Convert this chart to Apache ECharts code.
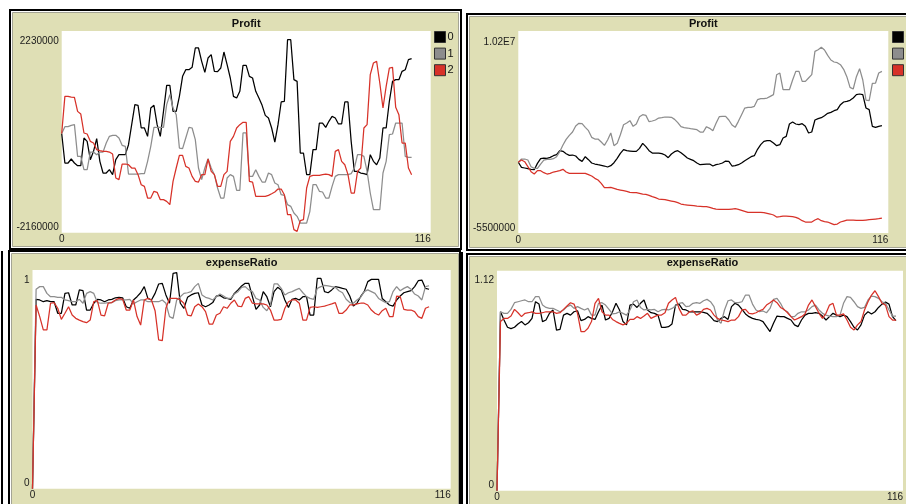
<!DOCTYPE html>
<html>
<head>
<meta charset="utf-8">
<style>
  html, body { margin: 0; padding: 0; background: #ffffff; }
  #chart { width: 906px; height: 504px; }
</style>
<script src="https://cdn.jsdelivr.net/npm/echarts@6/dist/echarts.min.js"></script>
</head>
<body>
<div id="chart"></div>
<script>
// ---- series identity ----
const seriesNames = ['0', '1', '2'];
const seriesColors = ['#000000', '#8d8d8d', '#d73229'];

// ---- shared x axis (ticks) ----
const tickRange = [0, 116];
const tickLabels = ['0', '116'];

// ---- run A : Profit, in thousands ----
const profitA0 = [0, -643, -643, -556, -643, -701, -701, -99, -172, -571,
  -389, -114, -607, -861, -861, -788, -897, -571, -462, -462,
  -462, -245, 191, 627, 612, 119, 119, -63, 554, 612,
  191, -63, 481, 1047, 1047, 481, 481, 808, 1243, 1388,
  1388, 1439, 1860, 1860, 1570, 1330, 1642, 1715, 1352, 1345,
  1424, 1773, 1497, 1207, 808, 772, 917, 1483, 1483, 1243,
  1207, 917, 772, 612, 394, 336, 119, -187, 191, 685,
  699, 2041, 2041, 1171, 1134, -426, -426, -897, -897, -353,
  -353, 227, 227, 133, 264, 372, 336, 206, 206, 685,
  685, -172, -825, -825, -861, -875, -897, -462, -607, -680,
  -536, 119, 119, 700, 1134, 1171, 1171, 1352, 1388, 1606, 1628];
const profitA1 = [0, 148, 148, 177, 191, -498, -498, -788, -788, -404,
  -404, -462, -404, -404, -208, -63, -41, -41, -99, -259,
  -281, -883, -883, -883, -883, -875, -875, -607, -281, 133,
  133, 133, 133, 627, 844, 554, 409, -317, -331, -99,
  133, 119, -135, -752, -1006, -752, -549, -752, -897, -1187,
  -1405, -1405, -970, -897, -934, -1238, -1238, 10, 10, -934,
  -934, -788, -934, -1057, -1057, -861, -897, -1079, -1115, -1333,
  -1347, -1550, -1586, -1732, -1804, -1949, -1949, -1949, -1700, -1115,
  -1115, -1260, -1274, -1405, -1405, -1151, -934, -897, -897, -897,
  -897, -875, -752, -462, -462, -498, -825, -1296, -1659, -1659,
  -1659, -861, -607, -26, -12, 227, 227, 227, -498, -520, -520];
const profitA2 = [0, 808, 808, 793, 786, 481, 423, 10, -12, -172,
  -208, -353, -375, -389, -389, -404, -447, -970, -1006, -665,
  -665, -680, -752, -752, -897, -1115, -1151, -1405, -1405, -1260,
  -1282, -1441, -1441, -1478, -1550, -1042, -752, -476, -476, -716,
  -752, -934, -1042, -1057, -897, -897, -556, -825, -897, -1151,
  -1151, -897, -825, -172, -63, 119, 191, 242, 242, -1042,
  -1057, -1369, -1369, -1369, -1369, -1347, -1311, -1274, -1209, -1209,
  -1333, -1768, -1768, -2094, -2130, -1898, -1877, -1187, -934, -912,
  -912, -912, -897, -883, -897, -934, -389, -353, -607, -680,
  -897, -1296, -1296, -825, -752, 119, 191, 1280, 1533, 1570,
  1098, 554, 1025, 1424, 1439, 568, 409, -208, -208, -752, -897];
const profitARange = [-2160000, 2230000];
const profitATicks = ['-2160000', '2230000'];

// ---- run B : Profit, in thousands ----
const profitB0 = [0, -397, -449, -501, -553, -579, -87, 276, 328, 302,
  380, 509, 587, 898, 846, 665, 535, 561, 483, 224,
  69, 432, 198, -61, -139, -191, -242, -294, -372, -268,
  -35, 302, 691, 976, 898, 872, 846, 846, 1080, 1468,
  1209, 898, 716, 716, 716, 665, 561, 354, 639, 820,
  898, 742, 535, 328, 224, 120, -61, -190, -164, -138,
  -138, -294, -190, -138, -61, 95, 69, -294, -268, -190,
  -61, 121, 276, 432, 510, 1002, 1364, 1624, 1675, 1675,
  1494, 1287, 1364, 1883, 2012, 2971, 3126, 2971, 2919, 2997,
  2790, 2271, 2349, 3282, 3386, 3463, 3619, 3800, 3878, 4007,
  4085, 4474, 4681, 4733, 4811, 4992, 5251, 5303, 5251, 4215,
  4085, 2790, 2712, 2790, 2842];
const profitB1 = [0, 250, 250, 172, -346, -476, -476, -139, 172, 224,
  224, 276, 431, 820, 1338, 1779, 2090, 2349, 2815, 3022,
  2997, 2711, 2452, 1934, 1805, 1805, 1571, 1312, 1727, 2271,
  1286, 1468, 2141, 2918, 3048, 3230, 2790, 2971, 3541, 3696,
  3644, 3152, 3204, 3281, 3437, 3463, 3515, 3515, 3489, 3333,
  3074, 2763, 2686, 2660, 2608, 2582, 2530, 2349, 2349, 2763,
  2634, 2452, 3022, 3541, 3567, 3567, 3281, 2893, 2711, 3178,
  3696, 4214, 4266, 4266, 4344, 4862, 4940, 4940, 4991, 5121,
  5251, 6805, 6935, 5639, 5639, 5639, 6391, 7064, 7064, 6287,
  6287, 6546, 6805, 8619, 8748, 8930, 8722, 8308, 7945, 7790,
  7738, 7582, 7220, 6650, 5820, 5691, 6650, 7271, 6391, 4836,
  4784, 6132, 6157, 6935, 7064];
const profitB2 = [0, 172, 43, -346, -735, -916, -657, -657, -812, -916,
  -864, -760, -709, -657, -553, -760, -864, -864, -864, -864,
  -864, -864, -968, -1072, -1253, -1383, -1642, -1979, -1979, -1953,
  -2030, -2108, -2160, -2212, -2264, -2342, -2367, -2367, -2419, -2471,
  -2497, -2575, -2678, -2756, -2860, -2885, -2911, -2963, -3015, -3067,
  -3144, -3248, -3300, -3326, -3352, -3378, -3404, -3429, -3455, -3455,
  -3507, -3585, -3637, -3663, -3663, -3663, -3663, -3637, -3611, -3663,
  -3740, -3818, -3896, -3896, -3896, -3896, -3896, -3922, -3973, -4025,
  -4103, -4259, -4233, -4181, -4181, -4207, -4233, -4284, -4388, -4544,
  -4647, -4647, -4647, -4492, -4388, -4544, -4621, -4647, -4751, -4854,
  -4803, -4647, -4570, -4492, -4492, -4492, -4518, -4518, -4518, -4492,
  -4466, -4440, -4414, -4388, -4336];
const profitBRange = [-5500000, 10200000];
const profitBTicks = ['-5500000', '1.02E7'];

// ---- run A : expenseRatio ----
const expenseA0 = [0, 0.866, 0.863, 0.855, 0.860, 0.855, 0.855, 0.802, 0.802, 0.893,
  0.896, 0.840, 0.840, 0.909, 0.906, 0.817, 0.817, 0.848, 0.866, 0.863,
  0.855, 0.863, 0.866, 0.873, 0.875, 0.873, 0.832, 0.825, 0.863, 0.878,
  0.896, 0.924, 0.870, 0.863, 0.893, 0.936, 0.939, 0.886, 0.848, 0.985,
  0.988, 0.848, 0.825, 0.875, 0.886, 0.893, 0.896, 0.840, 0.832, 0.840,
  0.851, 0.881, 0.884, 0.873, 0.870, 0.866, 0.893, 0.909, 0.927, 0.939,
  0.939, 0.878, 0.820, 0.840, 0.901, 0.878, 0.832, 0.901, 0.921, 0.909,
  0.863, 0.829, 0.866, 0.870, 0.863, 0.878, 0.878, 0.794, 0.794, 0.962,
  0.962, 0.901, 0.896, 0.909, 0.924, 0.921, 0.916, 0.912, 0.881, 0.835,
  0.848, 0.878, 0.901, 0.947, 0.957, 0.957, 0.957, 0.870, 0.855, 0.840,
  0.835, 0.863, 0.881, 0.896, 0.901, 0.906, 0.924, 0.951, 0.954, 0.916, 0.912];
const expenseA1 = [0, 0.912, 0.924, 0.924, 0.893, 0.878, 0.878, 0.875, 0.875, 0.863,
  0.860, 0.855, 0.855, 0.866, 0.848, 0.893, 0.901, 0.893, 0.851, 0.848,
  0.848, 0.851, 0.851, 0.860, 0.863, 0.863, 0.863, 0.866, 0.845, 0.855,
  0.863, 0.863, 0.855, 0.855, 0.855, 0.855, 0.863, 0.848, 0.787, 0.779,
  0.863, 0.878, 0.893, 0.896, 0.901, 0.924, 0.939, 0.886, 0.875, 0.870,
  0.863, 0.878, 0.890, 0.881, 0.870, 0.870, 0.890, 0.901, 0.921, 0.924,
  0.909, 0.901, 0.870, 0.863, 0.829, 0.814, 0.840, 0.936, 0.936, 0.916,
  0.886, 0.896, 0.901, 0.909, 0.916, 0.896, 0.878, 0.870, 0.866, 0.916,
  0.924, 0.930, 0.927, 0.924, 0.921, 0.905, 0.896, 0.866, 0.851, 0.848,
  0.863, 0.875, 0.901, 0.909, 0.901, 0.893, 0.870, 0.860, 0.851, 0.855,
  0.901, 0.924, 0.905, 0.916, 0.924, 0.912, 0.890, 0.881, 0.863, 0.924, 0.928];
const expenseA2 = [0, 0.840, 0.787, 0.726, 0.726, 0.848, 0.851, 0.825, 0.774, 0.802,
  0.832, 0.794, 0.779, 0.771, 0.764, 0.759, 0.771, 0.855, 0.860, 0.794,
  0.790, 0.848, 0.851, 0.863, 0.870, 0.866, 0.817, 0.817, 0.863, 0.787,
  0.748, 0.863, 0.870, 0.863, 0.814, 0.680, 0.677, 0.825, 0.870, 0.870,
  0.870, 0.863, 0.848, 0.794, 0.790, 0.832, 0.845, 0.832, 0.810, 0.753,
  0.753, 0.794, 0.802, 0.832, 0.825, 0.848, 0.863, 0.835, 0.832, 0.870,
  0.878, 0.848, 0.845, 0.845, 0.845, 0.840, 0.817, 0.771, 0.771, 0.774,
  0.825, 0.855, 0.863, 0.863, 0.848, 0.771, 0.771, 0.829, 0.832, 0.829,
  0.832, 0.835, 0.840, 0.845, 0.851, 0.802, 0.802, 0.817, 0.840, 0.840,
  0.845, 0.848, 0.848, 0.840, 0.817, 0.802, 0.794, 0.814, 0.825, 0.787,
  0.787, 0.881, 0.878, 0.820, 0.817, 0.817, 0.810, 0.787, 0.779, 0.825, 0.832];
const expenseARange = [0, 1];
const expenseATicks = ['0', '1'];

// ---- run B : expenseRatio ----
const expenseB0 = [0, 0.911, 0.869, 0.832, 0.825, 0.832, 0.849, 0.861, 0.844, 0.855,
  0.877, 0.962, 0.950, 0.861, 0.869, 0.903, 0.920, 0.818, 0.821, 0.894,
  0.903, 0.894, 0.911, 0.916, 0.866, 0.872, 0.886, 0.877, 0.872, 0.911,
  0.945, 0.869, 0.877, 0.911, 0.954, 0.920, 0.861, 0.844, 0.945, 0.950,
  0.933, 0.954, 0.971, 0.920, 0.906, 0.903, 0.894, 0.832, 0.832, 0.835,
  0.849, 0.945, 0.950, 0.923, 0.920, 0.911, 0.911, 0.911, 0.911, 0.908,
  0.903, 0.886, 0.866, 0.861, 0.877, 0.886, 0.872, 0.937, 0.954, 0.945,
  0.923, 0.900, 0.886, 0.877, 0.872, 0.869, 0.861, 0.835, 0.810, 0.852,
  0.889, 0.886, 0.886, 0.877, 0.869, 0.844, 0.835, 0.869, 0.894, 0.903,
  0.903, 0.906, 0.903, 0.889, 0.869, 0.886, 0.903, 0.894, 0.886, 0.894,
  0.886, 0.861, 0.832, 0.818, 0.844, 0.894, 0.911, 0.900, 0.911, 0.933,
  0.950, 0.960, 0.950, 0.886, 0.866];
const expenseB1 = [0, 0.911, 0.903, 0.903, 0.923, 0.957, 0.962, 0.967, 0.971, 0.962,
  0.962, 0.988, 0.988, 0.945, 0.933, 0.928, 0.928, 0.920, 0.911, 0.920,
  0.937, 0.945, 0.928, 0.937, 0.928, 0.920, 0.928, 0.894, 0.894, 0.954,
  0.957, 0.945, 0.923, 0.900, 0.903, 0.911, 0.903, 0.894, 0.920, 0.962,
  0.971, 0.933, 0.920, 0.923, 0.920, 0.923, 0.911, 0.920, 0.923, 0.920,
  0.928, 0.940, 0.954, 0.957, 0.937, 0.940, 0.954, 0.957, 0.954, 0.967,
  0.974, 0.962, 0.937, 0.869, 0.852, 0.920, 0.967, 0.971, 0.957, 0.957,
  0.962, 0.996, 0.996, 0.950, 0.920, 0.911, 0.915, 0.906, 0.928, 0.974,
  0.979, 0.954, 0.920, 0.911, 0.886, 0.886, 0.903, 0.911, 0.911, 0.920,
  0.937, 0.945, 0.920, 0.903, 0.894, 0.889, 0.886, 0.886, 0.894, 0.954,
  0.988, 0.984, 0.962, 0.937, 0.928, 0.933, 0.971, 0.991, 0.988, 0.979,
  0.962, 0.954, 0.920, 0.889, 0.889];
const expenseB2 = [0, 0.861, 0.877, 0.877, 0.889, 0.923, 0.906, 0.886, 0.903, 0.906,
  0.910, 0.903, 0.903, 0.906, 0.911, 0.911, 0.911, 0.903, 0.906, 0.923,
  0.940, 0.957, 0.950, 0.903, 0.810, 0.810, 0.827, 0.861, 0.954, 0.979,
  0.911, 0.894, 0.894, 0.872, 0.861, 0.852, 0.844, 0.852, 0.872, 0.872,
  0.886, 0.877, 0.889, 0.903, 0.877, 0.886, 0.894, 0.894, 0.906, 0.954,
  0.971, 0.984, 0.928, 0.894, 0.894, 0.911, 0.916, 0.894, 0.903, 0.923,
  0.928, 0.920, 0.894, 0.877, 0.869, 0.866, 0.861, 0.869, 0.869, 0.886,
  0.920, 0.923, 0.903, 0.900, 0.906, 0.916, 0.923, 0.945, 0.957, 0.971,
  0.957, 0.933, 0.923, 0.906, 0.886, 0.869, 0.877, 0.886, 0.900, 0.945,
  0.971, 0.937, 0.903, 0.877, 0.903, 0.945, 0.954, 0.894, 0.894, 0.900,
  0.869, 0.832, 0.818, 0.844, 0.861, 0.920, 0.962, 0.996, 1.018, 0.988,
  0.954, 0.945, 0.886, 0.869, 0.869];
const expenseBRange = [0, 1.12];
const expenseBTicks = ['0', '1.12'];

// ---- layout of the four plot widgets ----
const FONT = '"Liberation Sans", Arial, sans-serif';
const BEIGE = '#dfdfb5';

const panels = [
  { title: 'Profit', rect: { left: 61.7, top: 31, width: 369, height: 201.7 }, titleTop: 18, maxPad: 5,
    series: [profitA0, profitA1, profitA2], unit: 1000, range: profitARange, ticks: profitATicks },
  { title: 'Profit', rect: { left: 518.3, top: 31, width: 370, height: 202 }, titleTop: 18, maxPad: 6,
    series: [profitB0, profitB1, profitB2], unit: 1000, range: profitBRange, ticks: profitBTicks },
  { title: 'expenseRatio', rect: { left: 32.5, top: 270, width: 418.2, height: 218.7 }, titleTop: 257, maxPad: 5,
    series: [expenseA0, expenseA1, expenseA2], unit: 1, range: expenseARange, ticks: expenseATicks },
  { title: 'expenseRatio', rect: { left: 497, top: 270.7, width: 411, height: 220 }, titleTop: 257.5, maxPad: 5,
    series: [expenseB0, expenseB1, expenseB2], unit: 1, range: expenseBRange, ticks: expenseBTicks }
];

const labelStyle = { color: '#1a1a1a', fontSize: 10, fontFamily: FONT };

const option = {
  animation: false,
  backgroundColor: '#ffffff',
  title: [], grid: [], xAxis: [], yAxis: [], series: [], legend: [],
  graphic: []
};

panels.forEach((p, i) => {
  option.grid.push(Object.assign({ show: true, backgroundColor: '#ffffff', borderWidth: 0 }, p.rect));
  option.title.push({
    text: p.title, left: p.rect.left + p.rect.width / 2, top: p.titleTop, textAlign: 'center', padding: 0,
    textStyle: { fontSize: 11, fontWeight: 'bold', color: '#111111', fontFamily: FONT }
  });
  option.xAxis.push({
    type: 'value', gridIndex: i, min: tickRange[0], max: tickRange[1], interval: tickRange[1] - tickRange[0],
    axisLine: { show: false }, axisTick: { show: false }, splitLine: { show: false },
    axisLabel: Object.assign({
      margin: 2, alignMaxLabel: 'right',
      formatter: v => v === tickRange[0] ? tickLabels[0] : (v === tickRange[1] ? tickLabels[1] : '')
    }, labelStyle)
  });
  option.yAxis.push({
    type: 'value', gridIndex: i, min: p.range[0], max: p.range[1],
    axisLine: { show: false }, axisTick: { show: false }, splitLine: { show: false },
    axisLabel: Object.assign({
      margin: 3, verticalAlignMinLabel: 'bottom', verticalAlignMaxLabel: 'top',
      padding: [p.maxPad, 0, 0, 0],
      formatter: v => v === p.range[0] ? p.ticks[0] : (v === p.range[1] ? p.ticks[1] : '')
    }, labelStyle)
  });
  p.series.forEach((vals, k) => {
    option.series.push({
      type: 'line', name: seriesNames[k], xAxisIndex: i, yAxisIndex: i,
      data: vals.map((v, t) => [t, v * p.unit]),
      showSymbol: false, silent: true, z: 2 + k,
      color: seriesColors[k],
      lineStyle: { width: 1.25, color: seriesColors[k] }
    });
  });
});

// legends (pen swatches) to the right of the Profit plots
[434, 892].forEach(x => {
  option.legend.push({
    data: seriesNames, left: x, top: 31, orient: 'vertical', icon: 'rect', padding: 0,
    itemWidth: 11, itemHeight: 11, itemGap: 4.6, selectedMode: false,
    itemStyle: { borderColor: '#333333', borderWidth: 1 },
    textStyle: { fontSize: 11, lineHeight: 11, color: '#111111', fontFamily: FONT, padding: [0, 0, 0, -3] }
  });
});

// widget frames
const frame = (x, y, w, h) => ({
  type: 'rect', z: -9, silent: true, shape: { x, y, width: w, height: h },
  style: { fill: 'none', stroke: '#000000', lineWidth: 2 }
});
const face = (x, y, w, h) => ({
  type: 'rect', z: -10, silent: true, shape: { x, y, width: w, height: h },
  style: { fill: BEIGE, stroke: '#a4a494', lineWidth: 1 }
});
const vline = (x, y1, y2) => ({
  type: 'line', z: -9, silent: true, shape: { x1: x, y1, x2: x, y2 },
  style: { stroke: '#000000', lineWidth: 2 }
});
option.graphic = [
  face(12.5, 12.5, 446, 234), frame(10, 10, 451, 239),
  face(469.5, 16.5, 460, 231), frame(467, 14, 470, 236),
  face(11.5, 253.5, 447, 260), frame(9, 251, 451, 270), vline(2, 251, 504),
  face(469.5, 256.5, 460, 260), frame(467, 254, 470, 270), vline(462, 252, 504)
];

const chart = echarts.init(document.getElementById('chart'), null, { renderer: 'canvas' });
chart.setOption(option);
</script>
</body>
</html>
